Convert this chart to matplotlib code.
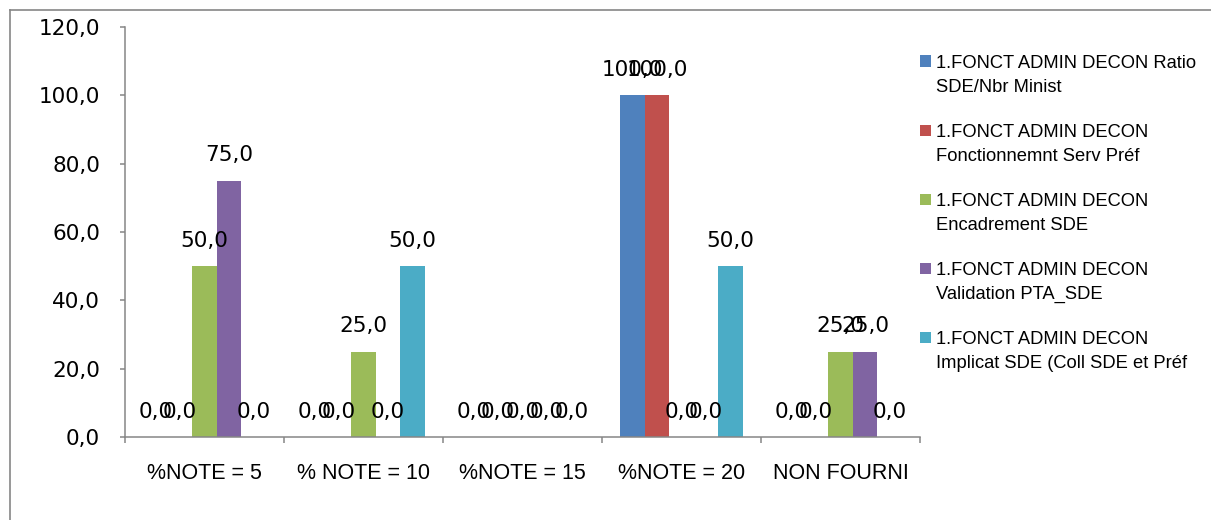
import matplotlib
matplotlib.use("Agg")
import matplotlib.pyplot as plt
from matplotlib.patches import Rectangle
from matplotlib.lines import Line2D
import numpy as np

plt.rcParams['font.family'] = ['Liberation Sans', 'DejaVu Sans']
number_font = ['DejaVu Sans']

categories = ["%NOTE = 5", "% NOTE = 10", "%NOTE = 15", "%NOTE = 20", "NON FOURNI"]
series_names = [
    "1.FONCT ADMIN DECON Ratio\nSDE/Nbr Minist",
    "1.FONCT ADMIN DECON\nFonctionnemnt Serv Préf",
    "1.FONCT ADMIN DECON\nEncadrement SDE",
    "1.FONCT ADMIN DECON\nValidation PTA_SDE",
    "1.FONCT ADMIN DECON\nImplicat SDE (Coll SDE et Préf",
]
ratio_sde = [0.0, 0.0, 0.0, 100.0, 0.0]
fonctionnement = [0.0, 0.0, 0.0, 100.0, 0.0]
encadrement = [50.0, 25.0, 0.0, 0.0, 25.0]
validation_pta = [75.0, 0.0, 0.0, 0.0, 25.0]
implication = [0.0, 50.0, 0.0, 50.0, 0.0]
series_values = [ratio_sde, fonctionnement, encadrement, validation_pta, implication]
y_ticks = [0, 20, 40, 60, 80, 100, 120]

colors = ["#4F81BD", "#C0504D", "#9BBB59", "#8064A2", "#4BACC6"]
axis_grey = "#868686"

W, H = 1211, 520
fig = plt.figure(figsize=(W / 100, H / 100), dpi=100)
fig.patch.set_facecolor("white")


def fx(px):
    return px / W


def fy(py):
    return 1 - py / H


def fmt(v):
    return f"{v:.1f}".replace(".", ",")


ax = fig.add_axes([fx(125), fy(437), fx(920) - fx(125), fy(27) - fy(437)])

n = len(series_values)
bar_w = 1 / 6.5
x = np.arange(len(categories))
for i, (vals, col) in enumerate(zip(series_values, colors)):
    xs = x + (i - (n - 1) / 2) * bar_w
    ax.bar(xs, vals, width=bar_w, color=col, linewidth=0)
    for xi, v in zip(xs, vals):
        ax.annotate(fmt(v), (xi, v), xytext=(0, 13.9),
                    textcoords="offset points", ha="center", va="baseline",
                    fontsize=15.5, family=number_font, color="black")

ax.set_xlim(-0.5, len(categories) - 0.5)
ax.set_ylim(0, 120)
ax.set_yticks(y_ticks)
ax.set_yticklabels([fmt(t) for t in y_ticks], fontsize=15.5, family=number_font)
ax.tick_params(axis="y", direction="out", length=3.6, width=1.1, color=axis_grey, pad=14.4)

ax.set_xticks(np.arange(len(categories) + 1) - 0.5)
ax.set_xticklabels([])
ax.tick_params(axis="x", which="major", direction="out", length=4.3, width=1.1, color=axis_grey)
ax.set_xticks(x, minor=True)
ax.set_xticklabels(categories, minor=True, fontsize=15.5)
ax.tick_params(axis="x", which="minor", length=0, pad=18.5)

for side in ["top", "right"]:
    ax.spines[side].set_visible(False)
for side in ["left", "bottom"]:
    ax.spines[side].set_color(axis_grey)
    ax.spines[side].set_linewidth(1.1)

# legend: coloured squares with two-line labels
first_center = 61
step = 69.2
sq = 11
for i, (name, col) in enumerate(zip(series_names, colors)):
    cy = first_center + i * step
    fig.patches.append(Rectangle((fx(920), fy(cy + sq / 2)), fx(sq), fy(0) - fy(sq),
                                 transform=fig.transFigure, facecolor=col, edgecolor="none"))
    for j, line in enumerate(name.split("\n")):
        fig.text(fx(936), fy(cy + j * 24), line, ha="left", va="center_baseline",
                 fontsize=13.2, color="black")

# outer frame
fig.lines.append(Line2D([fx(10), fx(10)], [0, fy(10)], transform=fig.transFigure,
                        color=axis_grey, linewidth=1.2))
fig.lines.append(Line2D([fx(10), 1], [fy(10), fy(10)], transform=fig.transFigure,
                        color=axis_grey, linewidth=1.2))

fig.savefig("out.png", dpi=100, facecolor="white")
